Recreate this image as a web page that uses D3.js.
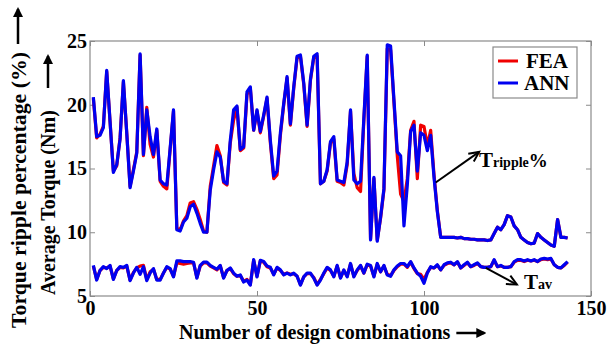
<!DOCTYPE html>
<html lang="en">
<head>
<meta charset="utf-8">
<title>Torque ripple / average torque: FEA vs ANN</title>
<script src="https://d3js.org/d3.v7.min.js"></script>
<style>
body{margin:0;background:#fff;}
svg{display:block;}
text{font-family:"Liberation Serif","Times New Roman",serif;font-weight:bold;fill:#000;}
</style>
</head>
<body>
<div id="chart"></div>
<script>
// design combination numbers 1..143
var designNo = d3.range(1, 144)

var xTicks = [0, 50, 100, 150]
var yTicks = [5, 10, 15, 20, 25]

// torque ripple percentage
var rippleANN = [20.6,17.5,17.6,18.2,22.7,18.7,14.7,15.3,17.3,21.9,
  17.8,13.5,14.8,16.2,24.0,16.1,19.6,17.5,16.1,18.1,
  14.1,13.8,13.7,16.6,19.6,10.2,10.1,10.8,11.1,12.0,
  12.2,11.5,10.7,10.0,10.0,13.3,14.9,16.3,15.9,14.0,
  13.8,17.2,19.6,19.9,16.5,16.7,21.0,21.4,18.0,19.6,
  17.9,19.2,20.6,17.2,14.4,14.8,17.8,20.1,22.2,18.5,
  21.4,23.8,23.9,21.7,18.4,22.0,23.8,24.0,13.8,14.0,
  14.9,17.1,17.5,14.1,14.0,13.9,15.5,19.6,14.1,13.8,
  14.0,19.0,23.9,9.4,14.3,9.3,11.2,13.4,24.7,24.6,
  20.4,16.3,16.0,10.5,13.7,17.9,18.4,14.8,17.8,17.6,
  16.4,17.6,14.3,11.6,9.6,9.6,9.6,9.6,9.6,9.55,
  9.6,9.5,9.5,9.45,9.45,9.4,9.4,9.4,9.35,9.4,
  9.9,10.4,10.2,10.6,11.3,11.2,10.5,10.2,9.6,9.4,
  9.2,9.1,9.15,9.9,9.6,9.4,9.2,9.0,8.9,11.0,
  9.6,9.6,9.55]

var rippleFEA = [20.5,17.4,17.7,18.3,22.6,18.7,14.8,15.2,17.4,21.8,
  17.8,13.6,14.9,16.3,23.9,16.0,19.8,16.9,15.9,18.0,
  14.0,13.6,13.4,16.5,19.5,10.3,10.2,10.9,11.3,12.3,
  12.4,11.8,11.0,10.1,10.0,13.6,15.2,16.8,16.0,13.9,
  13.7,17.0,18.8,19.8,16.4,16.6,20.8,21.3,18.0,19.5,
  17.8,19.1,20.5,17.0,14.2,14.5,17.6,20.0,22.1,18.4,
  21.3,23.7,23.8,21.6,18.3,21.9,23.7,23.8,13.8,14.0,
  14.8,17.0,17.3,14.0,13.9,13.7,15.3,19.5,14.6,13.5,
  13.2,18.8,23.8,9.5,14.2,9.4,11.1,13.3,24.4,24.3,
  20.2,16.0,13.0,12.4,14.2,18.0,18.7,14.2,18.4,18.3,
  16.8,18.0,14.5,11.7,9.6,9.6,9.6,9.6,9.6,9.55,
  9.6,9.5,9.5,9.45,9.45,9.4,9.4,9.4,9.35,9.4,
  9.9,10.4,10.2,10.6,11.3,11.2,10.5,10.2,9.6,9.4,
  9.2,9.1,9.15,9.9,9.6,9.4,9.2,9.0,8.9,11.0,
  9.6,9.6,9.55]

// average torque (Nm)
var tavANN = [7.4,6.25,7.0,7.3,7.15,7.4,6.3,7.0,7.3,7.25,
  7.4,6.2,6.8,7.25,6.7,7.3,6.2,6.8,7.15,6.25,
  6.25,6.8,7.3,7.15,6.5,7.75,7.75,7.7,7.7,7.7,
  7.65,6.4,7.4,7.65,7.65,7.4,7.25,7.1,7.4,6.4,
  7.0,7.2,6.8,6.55,6.65,6.1,6.25,5.85,7.85,6.5,
  7.8,7.7,7.35,7.25,6.65,7.25,7.05,6.65,6.8,6.65,
  6.8,6.55,5.85,6.5,6.8,6.8,6.4,5.85,6.25,6.8,
  7.25,7.05,6.5,7.4,6.4,7.05,6.5,7.55,6.5,7.05,
  7.4,6.8,7.5,7.4,6.5,7.55,6.9,7.4,6.65,6.55,
  7.05,7.35,7.55,7.55,7.3,7.7,7.2,6.8,6.55,6.0,
  6.8,7.3,7.2,7.45,7.05,7.45,7.6,7.65,7.45,7.7,
  7.2,7.45,7.65,7.3,7.45,7.6,7.3,7.25,7.25,7.3,
  7.85,7.3,7.4,7.25,7.25,7.3,7.7,7.85,7.85,7.75,
  7.85,7.75,7.85,7.7,7.9,7.95,7.9,7.95,7.45,7.25,
  7.2,7.45,7.7]

var tavFEA = [7.35,6.3,7.0,7.25,7.2,7.35,6.35,7.0,7.25,7.2,
  7.35,6.25,6.85,7.2,7.35,7.4,6.3,6.9,7.1,6.3,
  6.3,6.8,7.25,7.1,6.55,7.6,7.55,7.5,7.55,7.6,
  7.6,6.45,7.35,7.6,7.6,7.35,7.2,7.05,7.35,6.45,
  7.0,7.15,6.75,6.55,6.6,6.15,6.3,5.9,7.8,6.55,
  7.75,7.65,7.3,7.2,6.7,7.2,7.0,6.7,6.8,6.7,
  6.75,6.55,5.9,6.5,6.75,6.75,6.45,5.9,6.3,6.75,
  7.2,7.0,6.55,7.35,6.45,7.0,6.55,7.5,6.55,7.0,
  7.35,6.8,7.45,7.35,6.55,7.5,6.9,7.35,6.7,6.6,
  7.0,7.3,7.5,7.5,7.25,7.65,7.15,6.75,6.7,6.3,
  6.85,7.25,7.2,7.4,7.05,7.4,7.55,7.6,7.45,7.65,
  7.2,7.4,7.6,7.3,7.4,7.55,7.3,7.25,7.25,7.3,
  7.8,7.3,7.35,7.25,7.25,7.3,7.65,7.8,7.8,7.7,
  7.8,7.75,7.8,7.7,7.85,7.9,7.85,7.9,7.45,7.25,
  7.2,7.4,7.65]

var series = ["FEA", "ANN"]
var colors = {FEA: "#f00000", ANN: "#0000f0"}

var W = 608, H = 347
var pLeft = 90, pRight = 591, pTop = 41, pBottom = 296

var svg = d3.select("#chart").append("svg")
  .attr("width", W).attr("height", H)

var x = d3.scaleLinear().domain([0, 150]).range([pLeft, pRight])
var y = d3.scaleLinear().domain([5, 25]).range([pBottom, pTop])

// axes, ticks pointing inward
function styleAxis(g){
  g.select(".domain").remove()
  g.selectAll(".tick line").attr("stroke", "#8a8a8a")
  g.attr("font-size", null).attr("font-family", null)
  g.selectAll("text").style("font-size", "20px")
}
svg.append("g").attr("transform", "translate(0," + pBottom + ")")
  .call(d3.axisBottom(x).tickValues(xTicks).tickSize(-5).tickPadding(5))
  .call(styleAxis)
svg.append("g").attr("transform", "translate(0," + pTop + ")")
  .call(d3.axisTop(x).tickValues(xTicks).tickSize(-5).tickFormat(""))
  .call(styleAxis)
svg.append("g").attr("transform", "translate(" + pLeft + ",0)")
  .call(d3.axisLeft(y).tickValues(yTicks).tickSize(-5).tickPadding(3))
  .call(styleAxis)
svg.append("g").attr("transform", "translate(" + pRight + ",0)")
  .call(d3.axisRight(y).tickValues(yTicks).tickSize(-5).tickFormat(""))
  .call(styleAxis)

svg.append("rect")
  .attr("x", pLeft).attr("y", pTop)
  .attr("width", pRight - pLeft).attr("height", pBottom - pTop)
  .attr("fill", "none").attr("stroke", "#8a8a8a").attr("stroke-width", 1.2)

var line = d3.line()
  .x(function(d, i){ return x(designNo[i]) })
  .y(function(d){ return y(d) })

var lines = [
  {name: "FEA", values: rippleFEA},
  {name: "FEA", values: tavFEA},
  {name: "ANN", values: rippleANN},
  {name: "ANN", values: tavANN}
]
svg.selectAll(".series")
  .data(lines)
  .enter()
  .append("path")
  .attr("class", "series")
  .attr("d", function(d){ return line(d.values) })
  .attr("fill", "none")
  .attr("stroke", function(d){ return colors[d.name] })
  .attr("stroke-width", 3.2)
  .attr("stroke-linejoin", "round")

// legend
var lg = svg.append("g").attr("transform", "translate(493,47)")
lg.append("rect").attr("width", 84).attr("height", 51)
  .attr("fill", "#fff").attr("stroke", "#8a8a8a").attr("stroke-width", 1.2)
series.forEach(function(s, i){
  var yy = 14 + i * 22
  lg.append("line").attr("x1", 5).attr("x2", 25).attr("y1", yy).attr("y2", yy)
    .attr("stroke", colors[s]).attr("stroke-width", 3)
  lg.append("text").attr("x", 33 - (s == "ANN" ? 2 : 0)).attr("y", yy + 7)
    .style("font-size", "21px").text(s)
})

// annotation arrows
function openArrow(x1, y1, x2, y2){
  var a = Math.atan2(y2 - y1, x2 - x1), len = 11, spread = 0.45
  svg.append("line").attr("x1", x1).attr("y1", y1).attr("x2", x2).attr("y2", y2)
    .attr("stroke", "#000").attr("stroke-width", 2)
  svg.append("polyline")
    .attr("points", [
      [x2 - len * Math.cos(a - spread), y2 - len * Math.sin(a - spread)],
      [x2, y2],
      [x2 - len * Math.cos(a + spread), y2 - len * Math.sin(a + spread)]
    ].join(" "))
    .attr("fill", "none").attr("stroke", "#000").attr("stroke-width", 2)
    .attr("stroke-linejoin", "miter")
}
openArrow(x(103.5), y(13.9), x(116.5), y(16.3))
openArrow(x(118.5), y(7.2), x(127.8), y(5.9))

var t1 = svg.append("text").attr("x", 479).attr("y", 167).style("font-size", "21px")
t1.append("tspan").text("T")
t1.append("tspan").style("font-size", "14px").text("ripple")
t1.append("tspan").style("font-size", "19px").text("%")

var t2 = svg.append("text").attr("x", 524).attr("y", 289).style("font-size", "21px")
t2.append("tspan").text("T")
t2.append("tspan").style("font-size", "14px").text("av")

// axis titles with arrows
svg.append("defs").append("marker")
  .attr("id", "head").attr("viewBox", "0 0 10 10")
  .attr("refX", 8).attr("refY", 5)
  .attr("markerWidth", 4).attr("markerHeight", 4)
  .attr("orient", "auto")
  .append("path").attr("d", "M0,0L10,5L0,10Z").attr("fill", "#000")

var xt = svg.append("text").attr("x", 179).attr("y", 339)
  .style("font-size", "20px").text("Number of design combinations")
var xtEnd = 179 + xt.node().getComputedTextLength()
svg.append("line").attr("x1", xtEnd + 6).attr("x2", xtEnd + 34)
  .attr("y1", 333).attr("y2", 333)
  .attr("stroke", "#000").attr("stroke-width", 2.5).attr("marker-end", "url(#head)")

svg.append("text").attr("transform", "translate(26,328) rotate(-90)")
  .style("font-size", "21px")
  .attr("textLength", 276).attr("lengthAdjust", "spacingAndGlyphs")
  .text("Torque ripple percentage (%)")
svg.append("line").attr("x1", 18).attr("x2", 18).attr("y1", 44).attr("y2", 9)
  .attr("stroke", "#000").attr("stroke-width", 2.5).attr("marker-end", "url(#head)")

svg.append("text").attr("transform", "translate(55,295) rotate(-90)")
  .style("font-size", "20px").text("Average Torque (Nm)")
svg.append("line").attr("x1", 48).attr("x2", 48).attr("y1", 88).attr("y2", 56)
  .attr("stroke", "#000").attr("stroke-width", 2.5).attr("marker-end", "url(#head)")
</script>
</body>
</html>
